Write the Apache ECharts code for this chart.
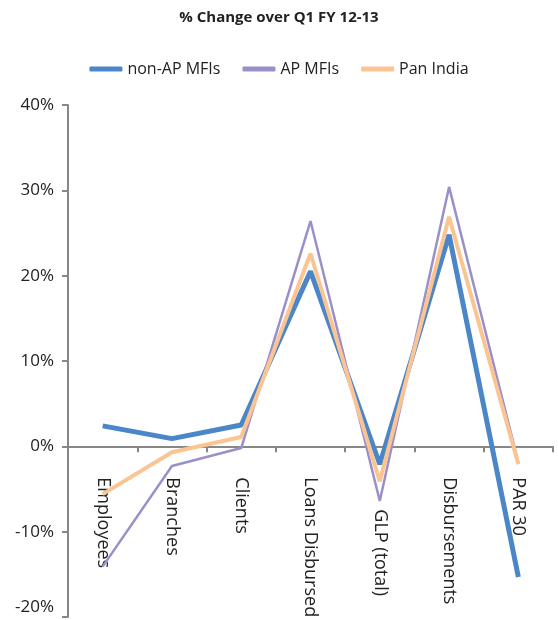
<!DOCTYPE html>
<html>
<head>
<meta charset="utf-8">
<script src="https://cdn.jsdelivr.net/npm/echarts@6/dist/echarts.min.js"></script>
<style>html,body{margin:0;padding:0;background:#fff}#c{width:558px;height:620px}</style>
</head>
<body>
<div id="c"></div>
<script>
const categories = ['Employees', 'Branches', 'Clients', 'Loans Disbursed', 'GLP (total)', 'Disbursements', 'PAR 30'];
const nonApMfis = [2.4, 0.9, 2.5, 20.5, -2.1, 24.8, -15.3];
const apMfis = [-14.1, -2.3, -0.2, 26.4, -6.4, 30.4, -1.9];
const panIndia = [-5.6, -0.7, 1.1, 22.6, -4.1, 26.9, -2.1];
const yTicks = { min: -20, max: 40, interval: 10 };

const FONT = "'Open Sans', sans-serif";
const GRID_TOP = 105, GRID_BOTTOM = 3, H = 620;
const plotH = H - GRID_TOP - GRID_BOTTOM;
const zeroFromBottom = plotH * (0 - yTicks.min) / (yTicks.max - yTicks.min);

const chart = echarts.init(document.getElementById('c'), null, { renderer: 'canvas' });
chart.setOption({
  animation: false,
  title: {
    text: '% Change over Q1 FY 12-13',
    left: 'center', top: 5,
    textStyle: { fontFamily: FONT, fontSize: 15, fontWeight: 'bold', color: '#222' }
  },
  legend: {
    top: 56, left: 'center',
    itemWidth: 33, itemHeight: 5, itemGap: 22,
    icon: 'roundRect',
    textStyle: { fontFamily: FONT, fontSize: 16, color: '#222' },
    data: ['non-AP MFIs', 'AP MFIs', 'Pan India']
  },
  grid: { left: 68, right: 5, top: GRID_TOP, bottom: GRID_BOTTOM, containLabel: false, outerBoundsMode: 'none' },
  xAxis: {
    type: 'category',
    data: categories,
    boundaryGap: true,
    position: 'bottom',
    offset: -zeroFromBottom,
    axisLine: { onZero: false, lineStyle: { color: '#878787', width: 2 } },
    axisTick: { show: true, length: 6, lineStyle: { color: '#878787', width: 2 } },
    axisLabel: {
      rotate: -90, margin: 31, fontFamily: FONT, fontSize: 18, color: '#222', interval: 0,
      formatter: function (v) { return v === 'GLP (total)' ? '{g|' + v + '}' : v; },
      rich: { g: { fontFamily: FONT, fontSize: 18, color: '#222', padding: [0, 0, 0, 32] } }
    },
    splitLine: { show: false }
  },
  yAxis: {
    type: 'value',
    min: yTicks.min, max: yTicks.max, interval: yTicks.interval,
    axisLine: { show: true, onZero: false, lineStyle: { color: '#878787', width: 2 } },
    axisTick: { show: true, length: 6, lineStyle: { color: '#878787', width: 2 } },
    axisLabel: {
      formatter: function (v) { return v === yTicks.min ? '{lo|' + v + '%}' : v + '%'; },
      rich: { lo: { fontFamily: FONT, fontSize: 17, color: '#222', padding: [0, 0, 20, 0] } },
      margin: 14, fontFamily: FONT, fontSize: 17, color: '#222'
    },
    splitLine: { show: false }
  },
  series: [
    { name: 'non-AP MFIs', type: 'line', data: nonApMfis, symbol: 'none',
      lineStyle: { width: 5, color: '#4a86c8' }, itemStyle: { color: '#4a86c8' } },
    { name: 'AP MFIs', type: 'line', data: apMfis, symbol: 'none',
      lineStyle: { width: 2.5, color: '#9b8fca' }, itemStyle: { color: '#9b8fca' } },
    { name: 'Pan India', type: 'line', data: panIndia, symbol: 'none',
      lineStyle: { width: 4, color: '#fbc593' }, itemStyle: { color: '#fbc593' } }
  ]
});
</script>
</body>
</html>
